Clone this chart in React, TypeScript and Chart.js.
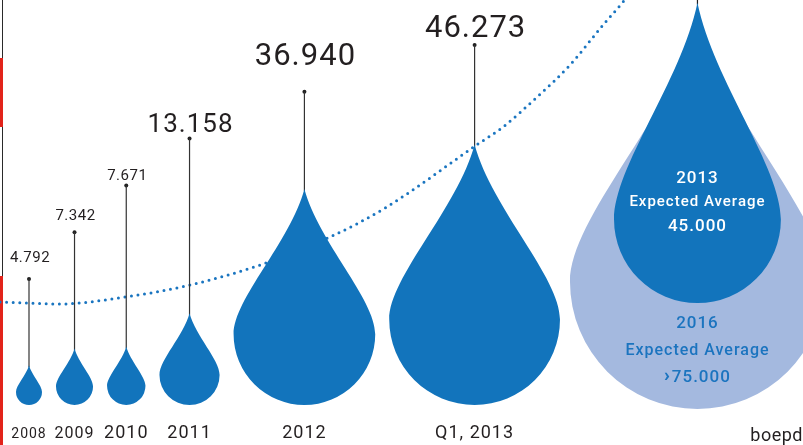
import React, { useEffect, useRef } from "react";
import { Chart, registerables } from "chart.js";

Chart.register(...registerables);

// ---------- data ----------
const categories = ["2008", "2009", "2010", "2011", "2012", "Q1, 2013"];
const production = [4792, 7342, 7671, 13158, 36940, 46273];
const valueLabels = ["4.792", "7.342", "7.671", "13.158", "36.940", "46.273"];
const forecastYears = ["2013", "2016"];
const forecastValues = [45000, 75000];
const forecastLabels = ["45.000", "75.000"];
const forecastCaption = "Expected Average";
const unitLabel = "boepd";
// dotted growth curve (layout units)
const trendX = [0, 60, 125, 190, 260, 330, 385, 478, 503, 537, 570, 603, 623, 640];
const trendY = [302, 304, 297, 285, 265, 237, 208, 144, 127, 97, 65, 25, 2, -20];

// ---------- styles ----------
const DROP_BLUE = "#1274bc";
const LIGHT_BLUE = "#a4b9df";
const TEXT_DARK = "#231f20";
const TEXT_BLUE = "#1b74bf";
const RED = "#e2231a";
const FONT = "Roboto, 'DejaVu Sans', sans-serif";
const valueFontSizes = [15, 15, 15, 26, 31, 31];
const valueLabelGaps = [17, 12, 5, 7, 27, 8];
const yearFontSizes = [14, 16, 18, 18, 18, 18];

// ---------- layout derived from values ----------
const W = 803;
const H = 445;
const radiusOf = (v: number) => 13 * Math.pow(v / 4792, 0.83);
const START = 16;
const GAP = 14;
const BASE = 405;
const LADDER_TOP = 279;
const LADDER_STEP = 46.8;

const histR = production.map(radiusOf);
const histX: number[] = [];
{
  let edge = START;
  histR.forEach((r) => {
    const c = edge + r;
    histX.push(c);
    edge = c + r + GAP;
  });
}
const histY = histR.map((r) => BASE - r);
const stemTopY = production.map((_, i) => LADDER_TOP - LADDER_STEP * i);

const fcR = forecastValues.map(radiusOf); // [dark 2013, light 2016]
const lastRight = histX[histX.length - 1] + histR[histR.length - 1];
const fcX = lastRight + 10 + fcR[1];
const darkCy = 303 - fcR[0];
const lightCy = 409 - fcR[1];

function dropPath(ctx: CanvasRenderingContext2D, cx: number, cy: number, r: number, tipFactor: number) {
  const s = tipFactor / 2.05;
  const h = tipFactor * r;
  ctx.beginPath();
  ctx.moveTo(cx, cy - h);
  ctx.bezierCurveTo(cx + 0.2 * r, cy - 1.3 * r * s, cx + r, cy - 0.5 * r * s, cx + r, cy);
  ctx.arc(cx, cy, r, 0, Math.PI, false);
  ctx.bezierCurveTo(cx - r, cy - 0.5 * r * s, cx - 0.2 * r, cy - 1.3 * r * s, cx, cy - h);
  ctx.closePath();
}

function setSpacing(ctx: any, v: string) {
  if ("letterSpacing" in ctx) ctx.letterSpacing = v;
}

const dropsPlugin = {
  id: "drops",
  beforeDatasetsDraw(chart: any) {
    const { ctx, scales } = chart;
    const x = scales.x;
    const y = scales.y;
    ctx.save();
    ctx.fillStyle = "#2a2a2a";
    ctx.fillRect(x.getPixelForValue(2), y.getPixelForValue(0), 1, H);
    ctx.fillStyle = RED;
    ctx.fillRect(x.getPixelForValue(0), y.getPixelForValue(58), 3, 69);
    ctx.fillRect(x.getPixelForValue(0), y.getPixelForValue(276), 3, 170);
    ctx.restore();
  },
  afterDatasetsDraw(chart: any) {
    const { ctx, scales } = chart;
    const x = scales.x;
    const y = scales.y;
    const unit = x.getPixelForValue(1) - x.getPixelForValue(0);
    const centers = chart.getDatasetMeta(1).data;
    const tops = chart.getDatasetMeta(2).data;
    const fc = chart.getDatasetMeta(3).data;
    ctx.save();

    // forecast drops
    const fx = fc[0].x;
    const lightPy = fc[1].y;
    const darkPy = fc[0].y;
    const rL = fcR[1] * unit;
    const rD = fcR[0] * unit;
    ctx.fillStyle = LIGHT_BLUE;
    dropPath(ctx, fx, lightPy, rL, 2.05);
    ctx.fill();
    const darkTip = 2.6;
    ctx.strokeStyle = TEXT_DARK;
    ctx.lineWidth = 1.2;
    ctx.beginPath();
    ctx.moveTo(fx, darkPy - darkTip * rD + 2);
    ctx.lineTo(fx, -10);
    ctx.stroke();
    ctx.fillStyle = DROP_BLUE;
    dropPath(ctx, fx, darkPy, rD, darkTip);
    ctx.fill();

    // stems + historical drops
    centers.forEach((pt: any, i: number) => {
      const r = histR[i] * unit;
      const tipY = pt.y - 2.05 * r;
      const top = tops[i];
      ctx.strokeStyle = "#333";
      ctx.lineWidth = 1.2;
      ctx.beginPath();
      ctx.moveTo(top.x, top.y);
      ctx.lineTo(pt.x, tipY + 2);
      ctx.stroke();
      ctx.fillStyle = DROP_BLUE;
      dropPath(ctx, pt.x, pt.y, r, 2.05);
      ctx.fill();

      // value label
      ctx.fillStyle = TEXT_DARK;
      ctx.textAlign = "center";
      ctx.textBaseline = "alphabetic";
      setSpacing(ctx, i < 3 ? "0.5px" : "1px");
      ctx.font = `${valueFontSizes[i]}px ${FONT}`;
      ctx.fillText(valueLabels[i], top.x + 1, top.y - valueLabelGaps[i]);

      // category label
      setSpacing(ctx, "1px");
      ctx.font = `${yearFontSizes[i]}px ${FONT}`;
      ctx.fillText(categories[i], pt.x, y.getPixelForValue(438));
    });

    // forecast texts
    setSpacing(ctx, "1px");
    ctx.textAlign = "center";
    ctx.textBaseline = "middle";
    ctx.fillStyle = "#ffffff";
    ctx.font = `500 17px ${FONT}`;
    ctx.fillText(forecastYears[0], fx, darkPy - 41);
    ctx.font = `500 15px ${FONT}`;
    ctx.fillText(forecastCaption, fx, darkPy - 17);
    ctx.font = `500 17px ${FONT}`;
    ctx.fillText(forecastLabels[0], fx, darkPy + 7);

    ctx.fillStyle = TEXT_BLUE;
    ctx.font = `500 17px ${FONT}`;
    ctx.fillText(forecastYears[1], fx, lightPy + 42);
    ctx.font = `500 16px ${FONT}`;
    ctx.fillText(forecastCaption, fx, lightPy + 69);
    ctx.font = `500 17px ${FONT}`;
    const numW = ctx.measureText(forecastLabels[1]).width;
    ctx.font = `900 19px ${FONT}`;
    const chevW = ctx.measureText("›").width + 1;
    const startX = fx - (numW + chevW) / 2;
    ctx.textAlign = "left";
    ctx.fillText("›", startX, lightPy + 95);
    ctx.font = `500 17px ${FONT}`;
    ctx.fillText(forecastLabels[1], startX + chevW, lightPy + 96);

    // unit
    setSpacing(ctx, "0.5px");
    ctx.fillStyle = TEXT_DARK;
    ctx.textAlign = "right";
    ctx.textBaseline = "alphabetic";
    ctx.font = `18px ${FONT}`;
    ctx.fillText(unitLabel, x.getPixelForValue(803), y.getPixelForValue(441));

    ctx.restore();
  },
};

export default function App() {
  const ref = useRef<HTMLCanvasElement>(null);
  useEffect(() => {
    document.body.style.margin = "0";
    if (!ref.current) return;
    const chart = new Chart(ref.current, {
      type: "scatter",
      data: {
        datasets: [
          {
            type: "line",
            data: trendX.map((v, i) => ({ x: v, y: trendY[i] })),
            borderColor: "#1a75c0",
            borderWidth: 3,
            borderDash: [0, 6.6],
            borderCapStyle: "round",
            cubicInterpolationMode: "monotone",
            pointRadius: 0,
            fill: false,
          } as any,
          {
            data: histX.map((v, i) => ({ x: v, y: histY[i] })),
            pointRadius: 0,
          },
          {
            data: histX.map((v, i) => ({ x: v, y: stemTopY[i] })),
            pointRadius: 2,
            pointBackgroundColor: "#222",
            pointBorderWidth: 0,
          },
          {
            data: [
              { x: fcX, y: darkCy },
              { x: fcX, y: lightCy },
            ],
            pointRadius: 0,
          },
        ],
      },
      options: {
        responsive: false,
        animation: false,
        layout: { padding: 0, autoPadding: false },
        events: [],
        plugins: { legend: { display: false }, tooltip: { enabled: false } },
        scales: {
          x: { type: "linear", min: 0, max: W, display: false },
          y: { type: "linear", min: 0, max: H, reverse: true, display: false },
        },
      },
      plugins: [dropsPlugin],
    });
    return () => chart.destroy();
  }, []);
  return (
    <canvas ref={ref} width={W} height={H} style={{ display: "block", width: W, height: H }} />
  );
}
